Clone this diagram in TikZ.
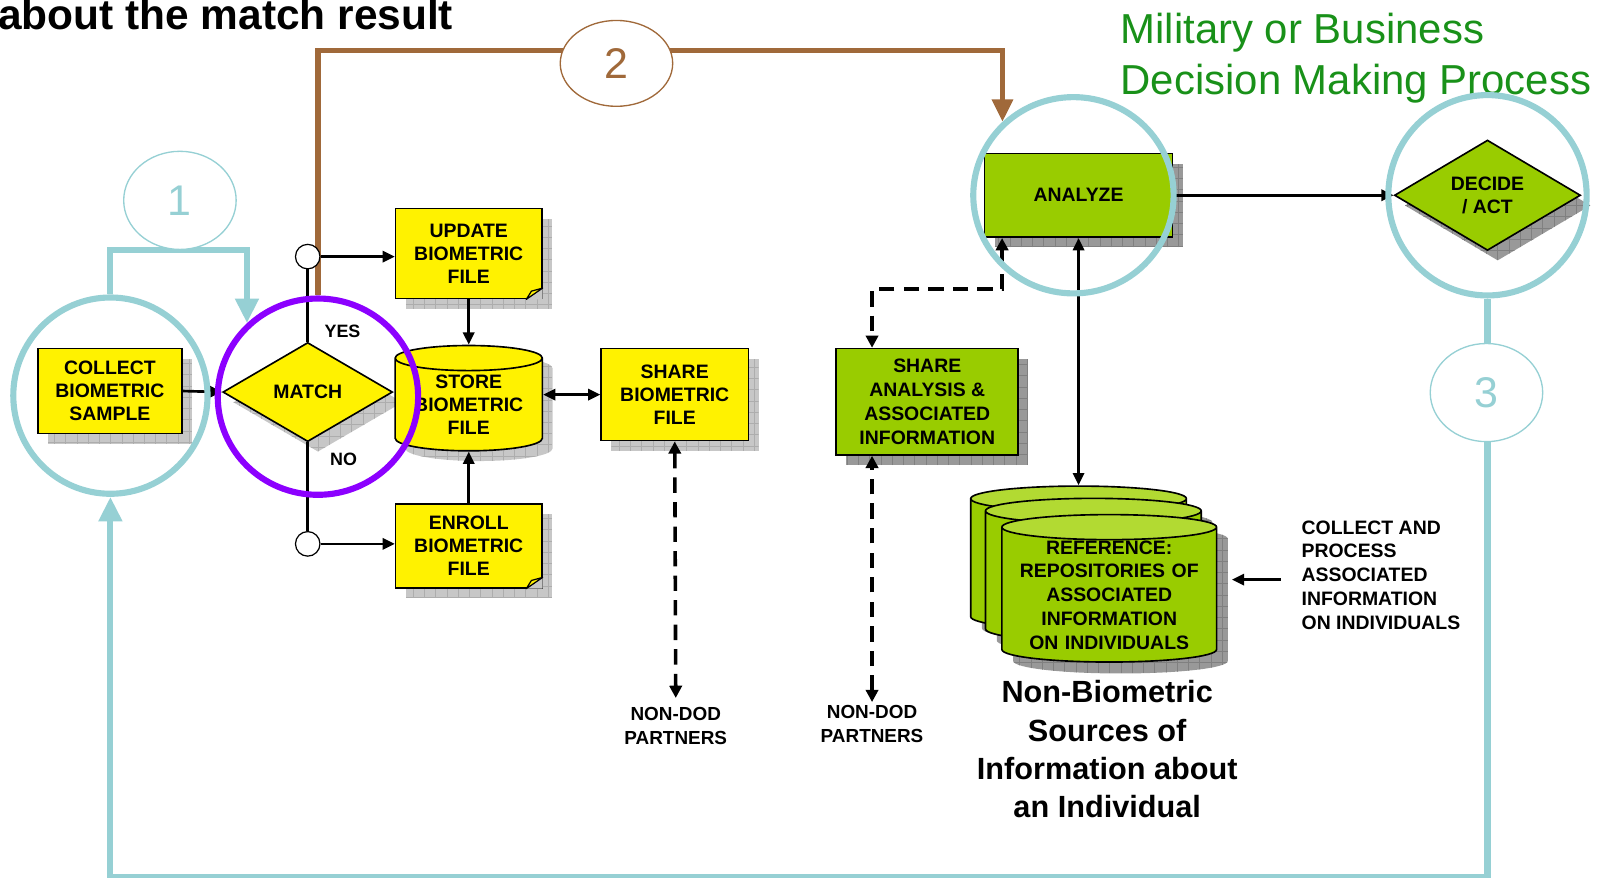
\documentclass[tikz,border=0pt]{standalone}
\usepackage{fontspec}
\setmainfont{Liberation Sans}
\usetikzlibrary{shapes.geometric,arrows.meta,shadows,backgrounds,calc}

\definecolor{ringteal}{RGB}{150,208,212}
\definecolor{ringviolet}{RGB}{140,0,255}
\definecolor{ochre}{RGB}{160,105,58}
\definecolor{leaf}{RGB}{153,204,0}
\definecolor{leaftop}{RGB}{178,218,50}
\definecolor{titlegreen}{RGB}{25,145,25}

\tikzset{
  gridfill/.style={path picture={\draw[#1,line width=.7pt,step=11pt] (path picture bounding box.south west) grid (path picture bounding box.north east);}},
  gridshade/.style 2 args={general shadow={shadow xshift=10pt,shadow yshift=-10pt,fill=#1,gridfill=#2}},
  boxtext/.style={font=\fontsize{19}{22.5}\selectfont\bfseries,align=center,inner sep=0pt},
  ybox/.style={boxtext,rectangle,draw,line width=1.6pt,fill=yellow,gridshade={black!22}{black!32}},
  gbox/.style={boxtext,rectangle,draw,line width=1.6pt,fill=leaf,gridshade={black!40}{black!50}},
  ydiamond/.style={boxtext,diamond,draw,line width=1.6pt,fill=yellow,gridshade={black!22}{black!32}},
  gdiamond/.style={boxtext,diamond,draw,line width=1.6pt,fill=leaf,gridshade={black!40}{black!50}},
  ycyl/.style={boxtext,cylinder,shape border rotate=90,aspect=0.23,draw,line width=1.6pt,
      fill=yellow,gridshade={black!22}{black!32}},
  gcyl/.style={boxtext,font=\fontsize{19}{23.3}\selectfont\bfseries,cylinder,shape border rotate=90,aspect=0.14,draw,line width=1.6pt,
      cylinder uses custom fill,cylinder body fill=leaf,cylinder end fill=leaftop},
  cylshade/.style={cylinder,shape border rotate=90,aspect=0.14,inner sep=0pt,text width=175pt,fill=black!40,gridfill=black!50},
  dot/.style={circle,draw,line width=1.2pt,fill=white,minimum size=24pt,inner sep=0pt},
  lbl/.style={font=\fontsize{18.5}{23}\selectfont\bfseries,align=center},
  ring/.style={ellipse,draw=ringteal,line width=6pt,inner sep=0pt},
  numring/.style={ellipse,draw=#1,line width=1.3pt,fill=white,inner sep=0pt,text=#1,
      font=\fontsize{42}{42}\selectfont},
  blk/.style={line width=2.6pt,-{Triangle[length=12pt,width=11pt]}},
  dblk/.style={line width=2.6pt,{Triangle[length=12pt,width=11pt]}-{Triangle[length=12pt,width=11pt]}},
  dsh/.style={line width=3.5pt,dash pattern=on 15pt off 9pt,{Triangle[length=12pt,width=12pt]}-{Triangle[length=12pt,width=12pt]}},
  tealline/.style={draw=ringteal,line width=6pt,-{Triangle[length=24pt,width=22pt]}},
  brownline/.style={draw=ochre,line width=5pt,-{Triangle[length=22pt,width=20pt]}}
}

\begin{document}
\begin{tikzpicture}[x=1pt,y=-1pt]
    \useasboundingbox (0,0) rectangle (1568,858);
    % headings
    \node[anchor=base west,inner sep=0pt,font=\fontsize{41.5}{41.5}\selectfont\bfseries] (title) at (-2,29) {about the match result};
    \node[anchor=north west,align=left,inner sep=0pt,text=titlegreen,font=\fontsize{41}{50}\selectfont] (military) at (1096,13) {Military or Business\\Decision Making Process};
    % biometric side
    \node[ybox,minimum width=141pt,minimum height=83pt] (collect) at (107.5,382.5) {COLLECT\\BIOMETRIC\\SAMPLE};
    \node[ydiamond,minimum width=166pt,minimum height=97pt] (match) at (301,383.5) {MATCH};
    \node[dot] (yesdot) at (301,251) {};
    \node[dot] (nodot) at (301,532) {};
    \node[font=\fontsize{17.5}{17.5}\selectfont\bfseries] (yes) at (335,324) {YES};
    \node[font=\fontsize{17.5}{17.5}\selectfont\bfseries] (no) at (336,449) {NO};
    \node[ybox,minimum width=143pt,minimum height=88pt] (update) at (458.5,248) {UPDATE\\BIOMETRIC\\FILE};
    \node[ycyl,minimum width=144pt,minimum height=103pt] (store) at (458.5,396) {STORE\\BIOMETRIC\\FILE};
    \node[ybox,minimum width=143pt,minimum height=82pt] (enroll) at (458.5,534) {ENROLL\\BIOMETRIC\\FILE};
    \node[ybox,minimum width=144pt,minimum height=90pt] (sharebio) at (660,386) {SHARE\\BIOMETRIC\\FILE};
    \foreach \n in {update,enroll}{
        \fill[black!22] ([xshift=-16pt]\n.south east) -- (\n.south east) -- ([yshift=11pt]\n.south east) -- cycle;
        \filldraw[fill=yellow,line width=1.2pt,line join=round] ([xshift=-16pt]\n.south east) -- ([yshift=11pt]\n.south east) -- ([shift={(-11pt,8pt)}]\n.south east) -- cycle;
    }
    \node[lbl,inner sep=9pt] (partnersA) at (661,710) {NON-DOD\\PARTNERS};
    % non-biometric side
    \node[gbox,font=\fontsize{19}{23.3}\selectfont\bfseries,minimum width=178pt,minimum height=104pt] (shareinfo) at (907,393) {SHARE\\ANALYSIS \&\\ASSOCIATED\\INFORMATION};
    \node[lbl,inner sep=3pt] (partnersB) at (853,708) {NON-DOD\\PARTNERS};
    \node[gbox,minimum width=184pt,minimum height=82pt] (analyze) at (1055,191) {ANALYZE};
    \node[gdiamond,minimum width=182pt,minimum height=108pt] (decide) at (1455,191) {DECIDE\\/ ACT};
    \foreach \c/\x/\y in {refback/1055/552,refmid/1069.5/564}{
        \node[cylshade,minimum width=211pt,minimum height=140pt] (\c shade) at (\x+11,\y+11) {};
        \node[gcyl,text width=175pt,minimum width=211pt,minimum height=140pt] (\c) at (\x,\y) {};
    }
    \node[cylshade,minimum width=210pt,minimum height=144pt] (reffrontshade) at (1096,593) {};
    \node[gcyl,text width=175pt,minimum width=210pt,minimum height=144pt] (reffront) at (1085,582) {REFERENCE:\\REPOSITORIES OF\\ASSOCIATED\\INFORMATION\\ON INDIVIDUALS};
    \node[anchor=north west,align=left,inner sep=0pt,font=\fontsize{19}{23.3}\selectfont\bfseries] (collectinfo) at (1273,509) {COLLECT AND\\PROCESS\\ASSOCIATED\\INFORMATION\\ON INDIVIDUALS};
    \node[align=center,inner sep=0pt,font=\fontsize{30}{37.5}\selectfont\bfseries] (nonbio) at (1083,733) {Non-Biometric\\Sources of\\Information about\\an Individual};
    % connectors
    \draw[blk] (collect.east) -- (match.west);
    \draw[line width=2.6pt] (yesdot) -- (match.north) (match.south) -- (nodot);
    \draw[blk] (yesdot.east) -- (yesdot.east -| update.west);
    \draw[blk] (nodot.east) -- (nodot.east -| enroll.west);
    \draw[blk] (update) -- (store);
    \draw[blk] (enroll) -- (store);
    \draw[dblk] (sharebio.west -| store.east) -- (sharebio.west);
    \draw[dsh] (sharebio.south) -- (partnersA.north);
    \draw[dsh] (partnersB.north) -- (partnersB.north |- shareinfo.south);
    \draw[dsh] ([xshift=18pt]analyze.south west) -- ++(0,50) -| (partnersB.north |- shareinfo.north);
    \draw[blk] (analyze) -- (decide);
    \draw[dblk] (analyze.south) -- (refback.top);
    \draw[blk] ($(reffront.center)+(168,-15)$) -- ($(reffront.center)+(120,-15)$);
    % rings
    \node[ring,minimum width=190pt,minimum height=192pt] (collectring) at (108,387) {};
    \node[ring,draw=ringviolet,minimum width=196pt,minimum height=192pt] (matchring) at (311,388) {};
    \node[ring,minimum width=196pt,minimum height=192pt] (analyzering) at (1050,191) {};
    \node[ring,minimum width=194pt,minimum height=196pt] (decidering) at (1455,191) {};
    \node[numring=ringteal,minimum width=110pt,minimum height=96pt] (one) at (176,196) {1};
    \node[numring=ochre,minimum width=110pt,minimum height=84pt] (two) at (603,62) {2};
    \node[numring=ringteal,minimum width=110pt,minimum height=96pt] (three) at (1454,384) {3};
    \begin{pgfonlayer}{background}
        \draw[tealline] (collectring.north) |- (one.south) -| (matchring.134);
        \draw[tealline] (decidering.south) |- ($(collectring.south)+(0,372)$) -- (collectring.south);
        \draw[brownline] (matchring.north) |- ($(two.center)+(0,-13)$) -| (analyzering.134);
    \end{pgfonlayer}
\end{tikzpicture}
\end{document}
